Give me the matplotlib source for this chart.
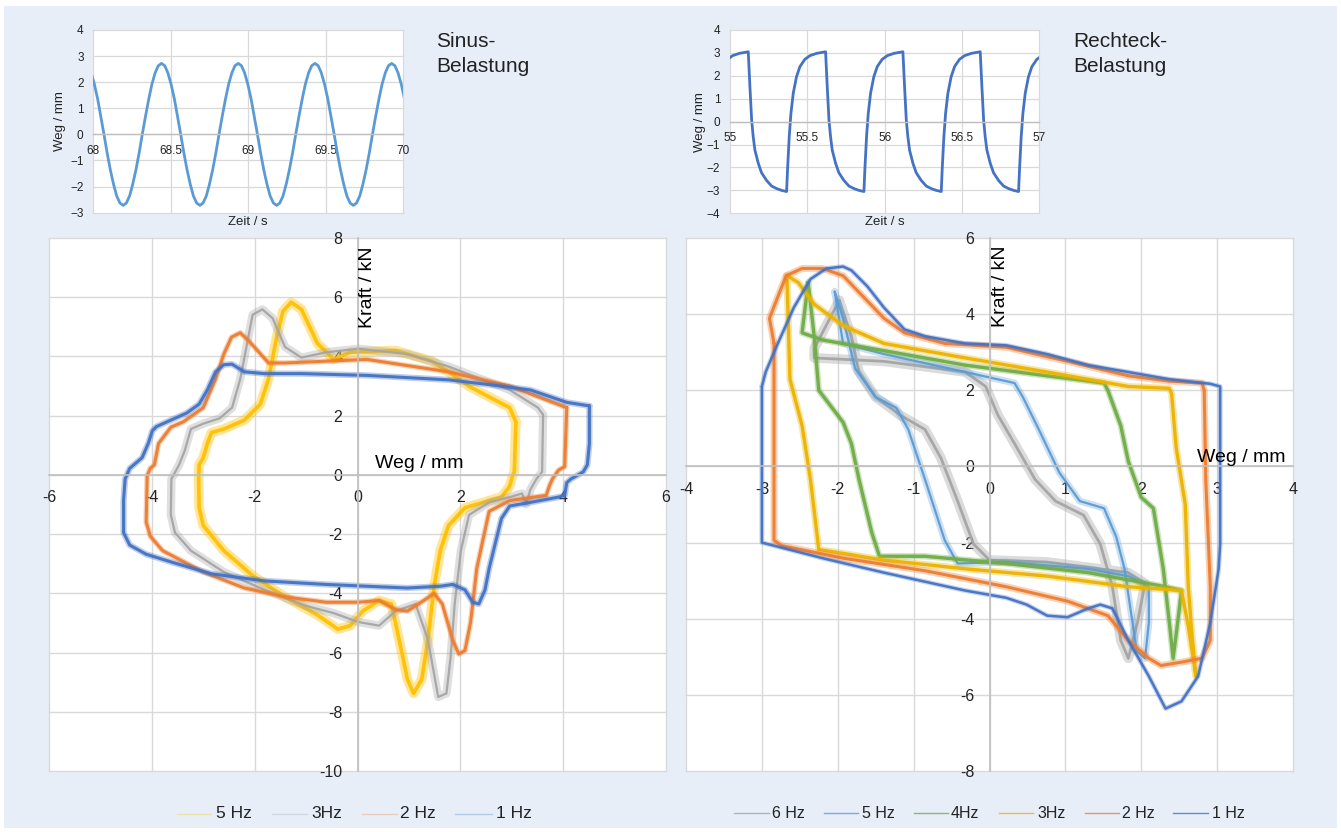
import numpy as np
import matplotlib
matplotlib.use("Agg")
import matplotlib.pyplot as plt
from matplotlib.patches import Rectangle
from matplotlib.lines import Line2D

plt.rcParams['font.family'] = ['Liberation Sans', 'DejaVu Sans']

W, H = 1341, 832

# ---------------- data: insets ----------------
sine_peak_times = [67.945, 68.44, 68.935, 69.43, 69.925]
sine_cycle_dt = [0.0, 0.021, 0.041, 0.062, 0.083, 0.103, 0.124, 0.144, 0.165, 0.186, 0.206, 0.227,
                 0.248, 0.268, 0.289, 0.309, 0.330, 0.351, 0.371, 0.392, 0.413, 0.433, 0.454, 0.474]
sine_cycle_y = [2.72, 2.63, 2.36, 1.92, 1.36, 0.70, 0.0, -0.70, -1.36, -1.92, -2.36, -2.63,
                -2.72, -2.63, -2.36, -1.92, -1.36, -0.70, 0.0, 0.70, 1.36, 1.92, 2.36, 2.63]

rect_drop_times = [54.618, 55.118, 55.618, 56.118, 56.618]
rect_cycle_dt = [0.0, 0.011, 0.022, 0.032, 0.043, 0.065, 0.086, 0.119, 0.151, 0.183,
                 0.216, 0.248, 0.254, 0.265, 0.276, 0.291, 0.312, 0.334, 0.366,
                 0.399, 0.442]
rect_cycle_y = [3.05, 1.50, 0.07, -0.65, -1.24, -1.82, -2.23, -2.57, -2.81, -2.92,
                -3.00, -3.05, -2.10, -0.65, 0.36, 1.24, 1.96, 2.40, 2.72,
                2.88, 2.98]

# ---------------- data: left main (Sinus) ----------------
sin_labels = ['5 Hz', '3Hz', '2 Hz', '1 Hz']
sin_1hz_x = [4.51, 4.07, 3.36, 2.56, 1.77, 0.18, -1.09, -1.81, -2.20, -2.44, -2.60, -2.76, -2.92, -3.08,
             -3.32, -3.63, -3.91, -3.99, -4.07, -4.19, -4.31, -4.43, -4.52, -4.55, -4.55, -4.43, -4.11,
             -3.55, -2.84, -1.81, -0.61, 0.97, 1.61, 1.85, 2.09, 2.24, 2.36, 2.48, 2.56, 2.68, 2.80,
             2.96, 3.36, 3.91, 4.03, 4.07, 4.15, 4.39, 4.47, 4.51, 4.51]
sin_1hz_y = [2.33, 2.45, 2.87, 3.05, 3.21, 3.36, 3.42, 3.42, 3.48, 3.74, 3.72, 3.48, 2.87, 2.39,
             2.09, 1.85, 1.63, 1.49, 1.06, 0.58, 0.40, 0.22, -0.14, -0.87, -1.95, -2.37, -2.68,
             -2.98, -3.34, -3.58, -3.70, -3.82, -3.76, -3.70, -3.88, -4.30, -4.36, -3.88, -3.16, -2.31,
             -1.47, -1.05, -0.93, -0.75, -0.69, -0.26, -0.14, 0.10, 0.34, 1.06, 2.33]
sin_2hz_x = [4.07, 2.96, 1.77, 0.18, -1.41, -1.73, -2.10, -2.28, -2.45, -2.60, -2.76, -3.00, -3.39,
             -3.63, -3.87, -3.95, -4.03, -4.09, -4.11, -4.03, -3.79, -3.00, -2.20, -1.41, -0.61, 0.02,
             0.42, 0.74, 0.97, 1.29, 1.49, 1.65, 1.85, 1.97, 2.09, 2.20, 2.32, 2.44, 2.56, 2.96, 3.67,
             3.73, 3.79, 3.91, 4.03, 4.07]
sin_2hz_y = [2.27, 3.00, 3.48, 3.90, 3.78, 3.78, 4.50, 4.80, 4.65, 4.08, 3.24, 2.27, 1.79, 1.61,
             1.06, 0.34, 0.22, -0.02, -1.59, -2.07, -2.56, -3.28, -3.82, -4.12, -4.30, -4.30, -4.24,
             -4.55, -4.60, -4.24, -4.00, -4.36, -5.57, -6.05, -5.93, -4.97, -3.16, -2.19, -1.23,
             -0.87, -0.69, -0.38, -0.14, 0.16, 0.28, 2.27]
sin_3hz_x = [3.61, 3.51, 2.96, 1.77, 0.97, 0.02, -0.61, -1.09, -1.41, -1.65, -1.85, -2.04, -2.12,
             -2.28, -2.44, -2.68, -3.00, -3.24, -3.36, -3.47, -3.62, -3.63, -3.55, -3.24, -2.60,
             -1.81, -1.01, -0.46, 0.02, 0.42, 0.74, 1.13, 1.37, 1.57, 1.73, 1.81, 1.89, 2.01, 2.17,
             2.56, 2.96, 3.20, 3.28, 3.36, 3.48, 3.59, 3.61]
sin_3hz_y = [2.03, 2.27, 2.87, 3.66, 4.08, 4.26, 4.14, 3.96, 4.32, 5.29, 5.59, 5.41, 4.68, 3.24,
             2.27, 1.91, 1.73, 1.55, 0.82, 0.34, -0.14, -1.35, -1.95, -2.56, -3.28, -3.88, -4.42,
             -4.67, -4.97, -5.09, -4.60, -4.36, -5.57, -7.50, -7.38, -6.17, -4.36, -2.56, -1.35,
             -0.93, -0.75, -0.63, -0.99, -0.50, -0.14, 0.10, 2.03]
sin_5hz_x = [3.08, 2.96, 2.17, 1.77, 1.45, 0.74, -0.14, -0.46, -0.78, -1.09, -1.29, -1.45, -1.57,
             -1.73, -1.89, -2.20, -2.60, -2.84, -2.92, -3.00, -3.08, -3.09, -3.08, -3.00, -2.60,
             -2.04, -1.41, -0.78, -0.38, -0.14, 0.10, 0.42, 0.66, 0.81, 0.97, 1.09, 1.25, 1.37,
             1.49, 1.61, 1.77, 2.09, 2.56, 2.80, 2.96, 3.02, 3.05, 3.08]
sin_5hz_y = [1.79, 2.27, 2.99, 3.48, 3.84, 4.20, 4.14, 3.90, 4.44, 5.59, 5.83, 5.53, 4.68, 3.24,
             2.39, 1.85, 1.55, 1.43, 1.06, 0.58, 0.34, -0.14, -1.11, -1.71, -2.56, -3.40, -4.12,
             -4.73, -5.21, -5.09, -4.60, -4.24, -4.36, -5.57, -6.90, -7.38, -6.90, -5.57, -3.76,
             -2.56, -1.71, -1.11, -0.87, -0.75, -0.38, 0.00, 0.10, 1.79]

# ---------------- data: right main (Rechteck) ----------------
rect_labels = ['6 Hz', '5 Hz', '4Hz', '3Hz', '2 Hz', '1 Hz']
rec_1hz_x = [-3.00, -3.00, -2.20, -1.39, -0.32, 0.22, 0.49, 0.76, 1.03, 1.30, 1.46, 1.62, 1.83,
             2.10, 2.32, 2.53, 2.75, 2.91, 3.02, 3.04, 3.04, 2.91, 2.37, 1.83, 1.30, 0.76, 0.22,
             -0.32, -0.85, -1.12, -1.39, -1.61, -1.82, -1.93, -2.15, -2.36, -2.58, -2.79, -2.95, -3.00]
rec_1hz_y = [2.10, -2.00, -2.41, -2.79, -3.26, -3.45, -3.63, -3.92, -3.96, -3.73, -3.63, -3.73,
             -4.57, -5.51, -6.36, -6.17, -5.51, -4.10, -2.69, -2.04, 2.10, 2.17, 2.29, 2.48, 2.66,
             2.95, 3.18, 3.23, 3.42, 3.60, 4.17, 4.73, 5.15, 5.25, 5.20, 4.92, 4.17, 3.23, 2.48, 2.10]
rec_2hz_x = [-2.84, -2.84, -2.74, -1.93, -0.85, 0.22, 1.03, 1.56, 1.83, 2.10, 2.26, 2.53, 2.80,
             2.91, 2.91, 2.85, 2.83, 2.80, 2.37, 1.83, 1.03, 0.22, -0.59, -1.12, -1.39, -1.66,
             -1.93, -2.20, -2.47, -2.68, -2.84, -2.90, -2.84]
rec_2hz_y = [3.23, -1.94, -2.08, -2.41, -2.74, -3.16, -3.54, -3.92, -4.57, -5.04, -5.23, -5.14,
             -5.04, -4.57, -3.16, -0.34, 2.00, 2.19, 2.24, 2.38, 2.76, 3.13, 3.23, 3.51, 3.89,
             4.45, 5.01, 5.20, 5.20, 5.01, 4.20, 3.89, 3.23]
rec_3hz_x = [-2.67, -2.63, -2.47, -2.36, -2.25, -1.39, -0.32, 0.76, 1.83, 2.53, 2.62, 2.72, 2.66,
             2.62, 2.58, 2.46, 2.40, 2.37, 1.83, 0.76, -0.32, -1.39, -1.93, -2.31, -2.52, -2.67]
rec_3hz_y = [5.01, 2.29, 1.07, -0.34, -2.18, -2.46, -2.69, -2.88, -3.16, -3.26, -4.20, -5.51,
             -4.20, -3.16, -1.00, 0.50, 1.91, 2.05, 2.10, 2.48, 2.85, 3.23, 3.70, 4.26, 4.83, 5.01]
rec_4hz_x = [-2.39, -2.31, -2.25, -1.93, -1.82, -1.72, -1.55, -1.45, -0.85, 0.22, 1.30, 1.83, 2.32,
             2.53, 2.48, 2.42, 2.37, 2.29, 2.16, 2.00, 1.83, 1.73, 1.56, 1.51, 0.76, -0.32, -1.39,
             -2.20, -2.47, -2.39]
rec_4hz_y = [4.83, 3.41, 2.00, 1.16, 0.60, -0.34, -1.75, -2.36, -2.36, -2.55, -2.79, -2.98, -3.16,
             -3.26, -4.10, -5.04, -4.10, -2.69, -1.10, -0.81, 0.13, 1.07, 2.00, 2.19, 2.38, 2.66,
             3.04, 3.32, 3.51, 4.83]
rec_5hz_x = [-2.04, -1.93, -1.77, -1.50, -1.23, -1.07, -0.85, -0.59, -0.42, 0.22, 1.30, 1.83, 2.10,
             2.10, 2.05, 1.94, 1.78, 1.67, 1.51, 1.19, 0.92, 0.65, 0.44, 0.33, -0.32, -1.39, -1.93,
             -2.04]
rec_5hz_y = [4.59, 3.89, 2.57, 1.82, 1.54, 0.97, -0.34, -1.94, -2.55, -2.51, -2.69, -2.88, -3.16,
             -4.10, -5.04, -4.85, -2.69, -1.85, -1.10, -0.91, -0.16, 0.97, 1.82, 2.19, 2.48, 2.95,
             3.23, 4.59]
rec_6hz_x = [-1.98, -1.82, -1.72, -1.50, -1.18, -0.85, -0.64, -0.42, -0.21, 0.00, 0.76, 1.30, 1.83,
             2.05, 1.95, 1.83, 1.73, 1.62, 1.46, 1.24, 0.87, 0.60, 0.33, 0.11, -0.05, -0.32, -1.39,
             -2.31, -2.31, -1.98]
rec_6hz_y = [4.36, 3.42, 2.48, 1.82, 1.35, 0.97, 0.22, -0.91, -2.04, -2.46, -2.51, -2.65, -2.79,
             -3.07, -4.10, -5.04, -4.57, -3.16, -2.04, -1.28, -0.91, -0.34, 0.60, 1.35, 2.10, 2.48,
             2.76, 2.85, 3.10, 4.36]

# ---------------- colours ----------------
C_BLUE = '#4472C4'
C_ORANGE = '#ED7D31'
C_GRAY = '#A5A5A5'
C_YELLOW = '#FFC000'
C_YELLOW2 = '#EBB400'
C_LBLUE = '#5B9BD5'
C_GREEN = '#70AD47'
BG = '#E8EEF8'
GRID = '#D9D9D9'
AXIS = '#BFBFBF'
TXT = '#222222'


def build_series(starts, dts, ys):
    t, v = [], []
    for s in starts:
        for d, y in zip(dts, ys):
            t.append(s + d)
            v.append(y)
    return np.array(t), np.array(v)


def fig_rect(x0, y0, x1, y1):
    return [x0 / W, 1 - y1 / H, (x1 - x0) / W, (y1 - y0) / H]


fig = plt.figure(figsize=(W / 100, H / 100), dpi=100)
fig.patch.set_facecolor('white')
fig.add_artist(Rectangle((4 / W, 1 - 828 / H), (1337 - 4) / W, (828 - 6) / H,
                         transform=fig.transFigure, facecolor=BG, edgecolor='none', zorder=-10))


def style_inset(ax, xlim, ylim, xticks, xlabels):
    ax.set_facecolor('white')
    ax.set_xlim(*xlim)
    ax.set_ylim(*ylim)
    ax.set_xticks(xticks)
    ax.set_xticklabels(xlabels)
    ax.set_yticks(range(int(ylim[0]), int(ylim[1]) + 1))
    for s in ['top', 'right', 'left']:
        ax.spines[s].set_visible(False)
    ax.spines['bottom'].set_position(('data', 0))
    ax.spines['bottom'].set_color(AXIS)
    ax.spines['bottom'].set_linewidth(1.0)
    ax.grid(True, color=GRID, lw=0.9)
    ax.set_axisbelow(True)
    ax.tick_params(length=0, labelsize=8.5, colors=TXT)
    ax.tick_params(axis='x', pad=7.5)
    ax.tick_params(axis='y', pad=7)
    for gl in ax.get_xgridlines() + ax.get_ygridlines():
        gl.set_clip_on(False)


# ---------------- left inset ----------------
ax1 = fig.add_axes(fig_rect(93.3, 30, 403.3, 212.7))
style_inset(ax1, (68, 70), (-3, 4), [68, 68.5, 69, 69.5, 70], ['68', '68.5', '69', '69.5', '70'])
st, sy = build_series(sine_peak_times, sine_cycle_dt, sine_cycle_y)
ax1.plot(st, sy, color=C_LBLUE, lw=2.0, solid_joinstyle='round')
fig.text(60 / W, 1 - 121.4 / H, 'Weg / mm', rotation=90, ha='center', va='center',
         fontsize=9.5, color=TXT)
fig.text(248.3 / W, 1 - 216 / H, 'Zeit / s', ha='center', va='top', fontsize=9.5, color=TXT)

# ---------------- right inset ----------------
ax2 = fig.add_axes(fig_rect(730, 30, 1039.3, 213.3))
style_inset(ax2, (55, 57), (-4, 4), [55, 55.5, 56, 56.5, 57], ['55', '55.5', '56', '56.5', '57'])
rt, ry = build_series(rect_drop_times, rect_cycle_dt, rect_cycle_y)
ax2.plot(rt, ry, color=C_BLUE, lw=2.0, solid_joinstyle='round')
fig.text(700 / W, 1 - 121.7 / H, 'Weg / mm', rotation=90, ha='center', va='center',
         fontsize=9.5, color=TXT)
fig.text(884.6 / W, 1 - 216 / H, 'Zeit / s', ha='center', va='top', fontsize=9.5, color=TXT)

fig.text(436 / W, 1 - 32 / H, 'Sinus-\nBelastung', ha='left', va='top', fontsize=15,
         color=TXT, linespacing=1.38)
fig.text(1073 / W, 1 - 32 / H, 'Rechteck-\nBelastung', ha='left', va='top', fontsize=15,
         color=TXT, linespacing=1.38)


def style_main(ax, xlim, ylim, xstep, ystep):
    ax.set_facecolor('white')
    ax.set_xlim(*xlim)
    ax.set_ylim(*ylim)
    ax.set_xticks(np.arange(xlim[0], xlim[1] + 0.01, xstep))
    ax.set_yticks(np.arange(ylim[0], ylim[1] + 0.01, ystep))
    ax.xaxis.set_major_formatter(matplotlib.ticker.FuncFormatter(lambda v, p: '%g' % v))
    ax.yaxis.set_major_formatter(matplotlib.ticker.FuncFormatter(lambda v, p: '%g' % v))
    for s in ['top', 'right']:
        ax.spines[s].set_visible(False)
    for s in ['left', 'bottom']:
        ax.spines[s].set_position('zero')
        ax.spines[s].set_color(AXIS)
        ax.spines[s].set_linewidth(1.2)
    ax.grid(True, color=GRID, lw=1.0)
    ax.set_axisbelow(True)
    ax.tick_params(length=0, labelsize=11.5, colors=TXT, pad=11)
    for gl in ax.get_xgridlines() + ax.get_ygridlines():
        gl.set_clip_on(False)


def bundle(ax, x, y, color, lw=2.0, halo=5.0, halo_alpha=0.3):
    ax.plot(x, y, color=color, lw=halo, alpha=halo_alpha, solid_joinstyle='round',
            solid_capstyle='round')
    ax.plot(x, y, color=color, lw=lw, alpha=0.95, solid_joinstyle='round',
            solid_capstyle='round')


# ---------------- left main ----------------
ax3 = fig.add_axes(fig_rect(49, 238, 666, 771))
style_main(ax3, (-6, 6), (-10, 8), 2, 2)
bundle(ax3, sin_5hz_x, sin_5hz_y, C_YELLOW, lw=2.6, halo=7, halo_alpha=0.4)
bundle(ax3, sin_3hz_x, sin_3hz_y, C_GRAY, lw=1.6, halo=6, halo_alpha=0.35)
bundle(ax3, sin_2hz_x, sin_2hz_y, C_ORANGE, lw=2.2, halo=4, halo_alpha=0.35)
bundle(ax3, sin_1hz_x, sin_1hz_y, C_BLUE, lw=2.2, halo=4.5, halo_alpha=0.35)
ax3.text(0.34, 0.22, 'Weg / mm', fontsize=14, color='black', ha='left', va='baseline')
ax3.text(0.20, 7.72, 'Kraft / kN', fontsize=14, color='black', rotation=90,
         ha='center', va='top')

# ---------------- right main ----------------
ax4 = fig.add_axes(fig_rect(686, 238, 1293, 771))
style_main(ax4, (-4, 4), (-8, 6), 1, 2)
bundle(ax4, rec_6hz_x, rec_6hz_y, C_GRAY, lw=2.0, halo=7, halo_alpha=0.4)
bundle(ax4, rec_5hz_x, rec_5hz_y, C_LBLUE, lw=1.6, halo=5, halo_alpha=0.3)
bundle(ax4, rec_4hz_x, rec_4hz_y, C_GREEN, lw=2.4, halo=4.5, halo_alpha=0.35)
bundle(ax4, rec_3hz_x, rec_3hz_y, C_YELLOW2, lw=2.4, halo=5, halo_alpha=0.35)
bundle(ax4, rec_2hz_x, rec_2hz_y, C_ORANGE, lw=2.2, halo=5, halo_alpha=0.35)
bundle(ax4, rec_1hz_x, rec_1hz_y, C_BLUE, lw=1.8, halo=3.5, halo_alpha=0.3)
ax4.text(2.74, 0.12, 'Weg / mm', fontsize=14, color='black', ha='left', va='baseline')
ax4.text(0.14, 5.80, 'Kraft / kN', fontsize=14, color='black', rotation=90,
         ha='center', va='top')


# ---------------- legends ----------------
def legend_entry(x0, x1, xt, y, text, color, size, alpha):
    fig.add_artist(Line2D([x0 / W, x1 / W], [1 - y / H, 1 - y / H], transform=fig.transFigure,
                          color=color, lw=1.0, alpha=alpha))
    fig.text(xt / W, 1 - y / H, text, ha='left', va='center', fontsize=size, color=TXT)


left_leg = [(177, 211, 216, sin_labels[0], C_YELLOW), (272, 307, 311, sin_labels[1], C_GRAY),
            (362, 397, 400, sin_labels[2], C_ORANGE), (455, 492, 496, sin_labels[3], C_BLUE)]
for x0, x1, xt, lab, c in left_leg:
    legend_entry(x0, x1, xt, 814, lab, c, 12.5, 0.3)

right_leg = [(734, 769, 772, rect_labels[0], C_GRAY), (824, 858, 862, rect_labels[1], C_LBLUE),
             (914, 948, 951, rect_labels[2], C_GREEN), (999, 1033, 1037, rect_labels[3], C_YELLOW2),
             (1085, 1119, 1122, rect_labels[4], C_ORANGE), (1173, 1208, 1212, rect_labels[5], C_BLUE)]
for x0, x1, xt, lab, c in right_leg:
    legend_entry(x0, x1, xt, 813, lab, c, 11.5, 0.8)

fig.savefig('out.png', dpi=100, facecolor=fig.get_facecolor())
